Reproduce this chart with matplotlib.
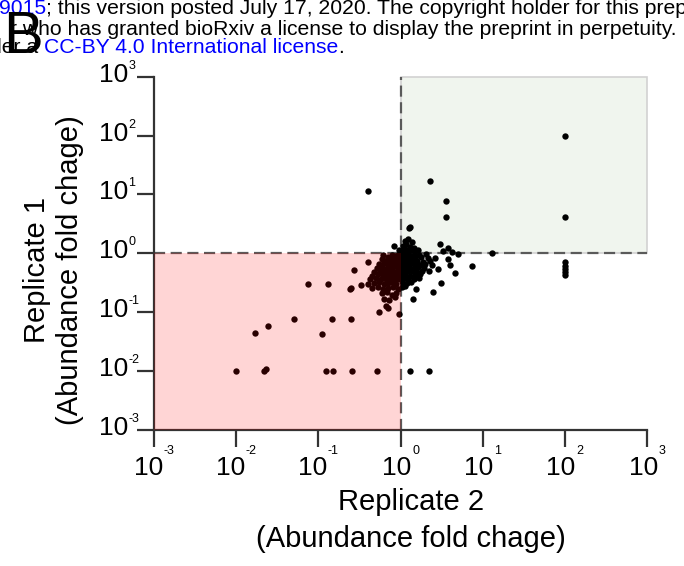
import matplotlib
matplotlib.use("Agg")
import matplotlib.pyplot as plt
from matplotlib import font_manager
from matplotlib.transforms import blended_transform_factory, offset_copy
from matplotlib.patches import Rectangle

# ---------------- data ----------------
blob_red_x = [0.62, 0.70, 0.78, 0.86, 0.94,
              0.60, 0.68, 0.76, 0.84, 0.92, 0.98,
              0.55, 0.63, 0.71, 0.79, 0.87, 0.95,
              0.52, 0.60, 0.68, 0.76, 0.84, 0.92, 0.99,
              0.48, 0.56, 0.64, 0.72, 0.80, 0.88, 0.96,
              0.45, 0.53, 0.61, 0.69, 0.77, 0.85, 0.93,
              0.43, 0.50, 0.58, 0.66, 0.74, 0.82, 0.90, 0.98,
              0.40, 0.47, 0.55, 0.63, 0.71, 0.79, 0.88,
              0.45, 0.53, 0.62, 0.70, 0.80, 0.92,
              0.60, 0.68, 0.78, 0.88,
              0.63, 0.72, 0.85,
              0.66, 0.70]
blob_red_y = [0.92, 0.88, 0.94, 0.90, 0.95,
              0.80, 0.78, 0.82, 0.79, 0.81, 0.77,
              0.66, 0.69, 0.67, 0.70, 0.68, 0.66,
              0.57, 0.59, 0.56, 0.58, 0.60, 0.57, 0.59,
              0.49, 0.51, 0.50, 0.48, 0.51, 0.49, 0.50,
              0.42, 0.44, 0.43, 0.41, 0.44, 0.42, 0.43,
              0.36, 0.38, 0.37, 0.36, 0.38, 0.37, 0.36, 0.38,
              0.30, 0.31, 0.32, 0.30, 0.31, 0.32, 0.30,
              0.26, 0.27, 0.25, 0.26, 0.27, 0.25,
              0.21, 0.22, 0.20, 0.21,
              0.17, 0.16, 0.18,
              0.13, 0.12]

blob_right_x = [1.04, 1.14, 1.27, 1.45, 1.70, 2.05,
                1.02, 1.10, 1.20, 1.33, 1.52, 1.78, 2.15, 2.60,
                1.04, 1.12, 1.24, 1.40, 1.60, 1.90, 2.30,
                1.02, 1.10, 1.20, 1.32, 1.50, 1.72, 2.00, 2.45,
                1.05, 1.15, 1.28, 1.45, 1.65, 1.95,
                1.02, 1.10, 1.22, 1.38, 1.58, 1.85, 2.20,
                1.05, 1.15, 1.30, 1.50, 1.75,
                1.02, 1.12, 1.25, 1.45, 1.70,
                1.05, 1.20, 1.36,
                1.03, 1.15]
blob_right_y = [0.94, 0.96, 0.93, 0.95, 0.92, 0.96,
                0.84, 0.86, 0.83, 0.85, 0.82, 0.86, 0.84, 0.83,
                0.74, 0.75, 0.73, 0.76, 0.74, 0.72, 0.75,
                0.65, 0.66, 0.64, 0.66, 0.65, 0.63, 0.66, 0.64,
                0.57, 0.58, 0.56, 0.57, 0.58, 0.56,
                0.50, 0.49, 0.51, 0.50, 0.49, 0.51, 0.50,
                0.43, 0.44, 0.42, 0.43, 0.44,
                0.37, 0.38, 0.36, 0.37, 0.38,
                0.32, 0.31, 0.33,
                0.27, 0.28]

blob_up_x = [1.05, 1.12, 1.22, 1.35, 1.50, 1.65, 1.08, 1.18, 1.30, 1.45,
             1.15, 1.25, 1.38, 1.27, 1.31, 0.83, 0.97]
blob_up_y = [1.08, 1.18, 1.10, 1.14, 1.08, 1.12, 1.35, 1.45, 1.30, 1.25,
             1.62, 1.75, 1.55, 2.70, 2.85, 1.33, 1.15]

outlier_x = [3.0, 3.8, 3.3, 4.3, 5.0, 3.96, 4.55, 3.13, 2.48, 1.55, 1.41, 3.8, 7.5, 13.0, 2.9,
             100, 100, 2.3, 3.6, 3.6, 0.40,
             100, 100, 100, 100, 100,
             0.40, 0.27, 0.075, 0.13, 0.24, 0.25, 0.33, 0.55, 0.95, 0.051, 0.147, 0.25,
             0.024, 0.017, 0.11,
             0.0098, 0.022, 0.023, 0.124, 0.15, 0.26, 0.52, 1.32, 2.2]
outlier_y = [1.45, 1.25, 1.08, 1.05, 0.98, 0.63, 0.46, 0.31, 0.22, 0.25, 0.17, 0.79, 0.62, 1.0, 0.55,
             100, 4.1, 17, 7.6, 4.2, 11.4,
             0.70, 0.62, 0.55, 0.49, 0.43,
             0.71, 0.52, 0.30, 0.30, 0.245, 0.26, 0.29, 0.10, 0.093, 0.076, 0.076, 0.078,
             0.059, 0.044, 0.042,
             0.010, 0.0102, 0.0108, 0.010, 0.010, 0.010, 0.010, 0.010, 0.010]

tick_exponents = [-3, -2, -1, 0, 1, 2, 3]
axis_min, axis_max, threshold = 1e-3, 1e3, 1.0
x_label = "Replicate 2\n(Abundance fold chage)"
y_label = "Replicate 1\n(Abundance fold chage)"
panel_letter = "B"
header_1 = ("9015", "; this version posted July 17, 2020. The copyright holder for this prep")
header_2 = "r who has granted bioRxiv a license to display the preprint in perpetuity."
header_3 = ("der a", "CC-BY 4.0 International license", ".")

# ---------------- styling ----------------
plt.rcParams["font.family"] = ["Liberation Sans", "DejaVu Sans"]


def has_font(name):
    try:
        font_manager.findfont(font_manager.FontProperties(family=name),
                              fallback_to_default=False)
        return True
    except Exception:
        return False


if has_font("Liberation Sans Narrow"):
    tick_family, tick_size = ["Liberation Sans Narrow", "DejaVu Sans"], 22
else:
    tick_family, tick_size = ["Liberation Sans", "DejaVu Sans"], 19

W, H = 684, 566
fig = plt.figure(figsize=(W / 100, H / 100), dpi=100)
fig.patch.set_facecolor("white")


def fx(x):
    return x / W


def fy(y):
    return 1 - y / H


ax = fig.add_axes([154.3 / W, 1 - 430 / H, (646.7 - 154.3) / W, (430 - 76.7) / H])
ax.set_xscale("log")
ax.set_yscale("log")
ax.set_xlim(axis_min, axis_max)
ax.set_ylim(axis_min, axis_max)
ax.set_facecolor("white")

spine_col = "#333333"
for s in ("top", "right"):
    ax.spines[s].set_visible(False)
for s in ("left", "bottom"):
    ax.spines[s].set_color(spine_col)
    ax.spines[s].set_linewidth(1.6)

ticks = [10.0 ** e for e in tick_exponents]
ax.set_xticks(ticks)
ax.set_yticks(ticks)
ax.minorticks_off()
ax.tick_params(axis="both", which="major", length=12, width=1.6, color=spine_col,
               direction="out", labelbottom=False, labelleft=False)

# shaded quadrants
green = Rectangle((threshold, threshold), axis_max - threshold, axis_max - threshold,
                  facecolor=(0.45, 0.65, 0.35, 0.10), edgecolor="#d2d2d2", linewidth=1.2,
                  zorder=0.5, clip_on=False)
ax.add_patch(green)

dash = (0, (5, 2.5))
ax.axvline(threshold, color="#5a5a5a", lw=1.6, ls=dash, zorder=1.5)
ax.axhline(threshold, color="#5a5a5a", lw=1.6, ls=dash, zorder=1.5)

all_x = blob_red_x + blob_right_x + blob_up_x + outlier_x
all_y = blob_red_y + blob_right_y + blob_up_y + outlier_y
ax.scatter(all_x, all_y, s=21, c="black", linewidths=0, zorder=2.5, clip_on=False)

red = Rectangle((axis_min, axis_min), threshold - axis_min, threshold - axis_min,
                facecolor=(1.0, 0.0, 0.0, 0.165), edgecolor="none", zorder=3)
ax.add_patch(red)

# tick labels: "10" with small superscript exponent
bx = blended_transform_factory(ax.transData, ax.transAxes)
by = blended_transform_factory(ax.transAxes, ax.transData)
exp_size = 9
for e, v in zip(tick_exponents, ticks):
    s = str(e)
    w_e = 6.8 * sum(c.isdigit() for c in s) + 4.2 * s.count("-")
    left = 3 - (25 + w_e) / 2
    ax.text(v, 0, "10", transform=offset_copy(bx, fig, x=left + 24, y=-45, units="dots"),
            ha="right", va="baseline", family=tick_family, fontsize=tick_size,
            color="black", clip_on=False)
    ax.text(v, 0, s, transform=offset_copy(bx, fig, x=left + 24.5, y=-24, units="dots"),
            ha="left", va="baseline", fontsize=exp_size, color="black", clip_on=False)
    ax.text(0, v, "10", transform=offset_copy(by, fig, x=-26, y=-5, units="dots"),
            ha="right", va="baseline", family=tick_family, fontsize=tick_size,
            color="black", clip_on=False)
    ax.text(0, v, s, transform=offset_copy(by, fig, x=-26, y=8, units="dots"),
            ha="left", va="baseline", fontsize=exp_size, color="black", clip_on=False)

ax.set_xlabel(x_label, fontsize=21, linespacing=1.4, color="black")
ax.xaxis.set_label_coords((411 - 154.3) / (646.7 - 154.3), -0.165)
ax.set_ylabel(y_label, fontsize=21, linespacing=1.2, color="black")
ax.yaxis.set_label_coords(-0.143, (430 - 270) / (430 - 76.7))

# header (bioRxiv watermark) and panel letter
link = "#0000ff"
hs = 15.2
t1 = fig.text(fx(-1), fy(14), header_1[0], color=link, fontsize=hs, va="baseline", ha="left")
ax.annotate(header_1[1], xy=(1, 0), xycoords=t1, ha="left", va="bottom",
            fontsize=hs, color="black", annotation_clip=False)
fig.text(fx(677), fy(35), header_2, color="black", fontsize=hs, va="baseline", ha="right")
t3 = fig.text(fx(44), fy(53), header_3[1], color=link, fontsize=hs, va="baseline", ha="left")
fig.text(fx(38), fy(53), header_3[0], color="black", fontsize=hs, va="baseline", ha="right")
ax.annotate(header_3[2], xy=(1, 0), xycoords=t3, ha="left", va="bottom",
            fontsize=hs, color="black", annotation_clip=False)
fig.text(fx(3), fy(53), panel_letter, color="black", fontsize=43, va="baseline", ha="left")

fig.savefig("out.png", dpi=100, facecolor="white")
